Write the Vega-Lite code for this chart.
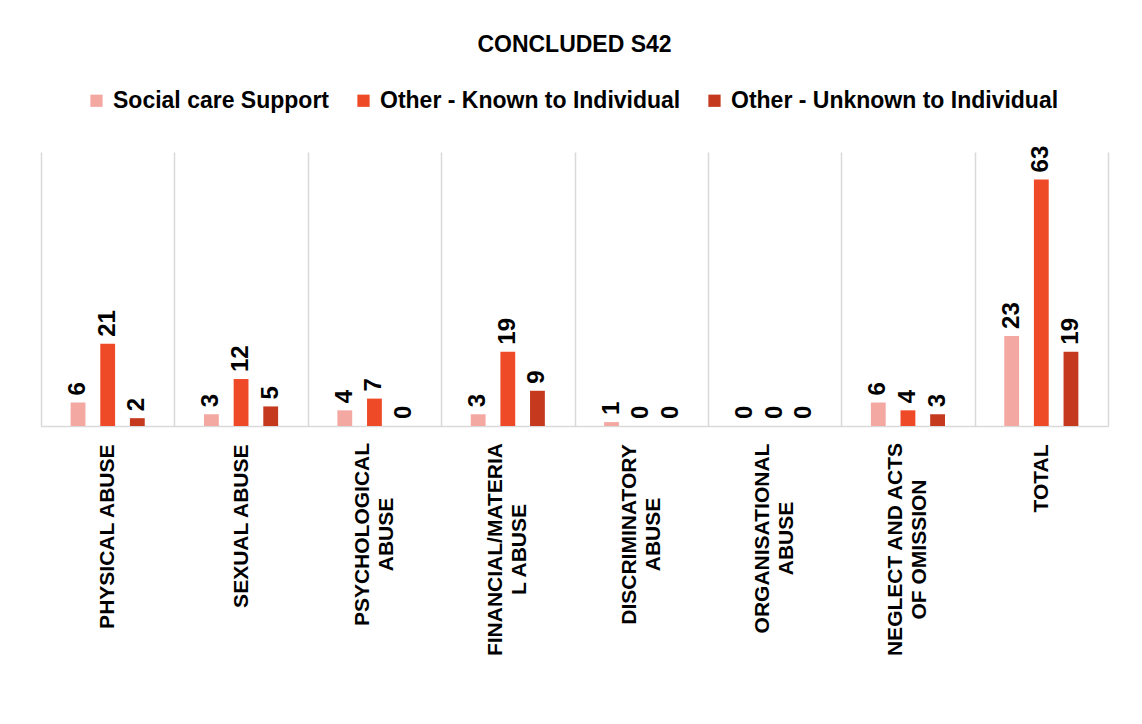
{
  "$schema": "https://vega.github.io/schema/vega-lite/v6.json",
  "width": 1067,
  "height": 274,
  "autosize": {"type": "none"},
  "padding": {"left": 41, "top": 152, "right": 34, "bottom": 298},
  "background": "white",
  "title": {"text": "CONCLUDED S42", "fontSize": 23, "font": "Liberation Sans", "fontWeight": "bold", "color": "#000000", "anchor": "middle", "offset": 32},
  "config": {"view": {"stroke": null}, "font": "Liberation Sans"},
  "data": {"values": [
    {"category": "PHYSICAL ABUSE", "series": "Social care Support", "value": 6},
    {"category": "PHYSICAL ABUSE", "series": "Other - Known to Individual", "value": 21},
    {"category": "PHYSICAL ABUSE", "series": "Other - Unknown to Individual", "value": 2},
    {"category": "SEXUAL ABUSE", "series": "Social care Support", "value": 3},
    {"category": "SEXUAL ABUSE", "series": "Other - Known to Individual", "value": 12},
    {"category": "SEXUAL ABUSE", "series": "Other - Unknown to Individual", "value": 5},
    {"category": "PSYCHOLOGICAL ABUSE", "series": "Social care Support", "value": 4},
    {"category": "PSYCHOLOGICAL ABUSE", "series": "Other - Known to Individual", "value": 7},
    {"category": "PSYCHOLOGICAL ABUSE", "series": "Other - Unknown to Individual", "value": 0},
    {"category": "FINANCIAL/MATERIAL ABUSE", "series": "Social care Support", "value": 3},
    {"category": "FINANCIAL/MATERIAL ABUSE", "series": "Other - Known to Individual", "value": 19},
    {"category": "FINANCIAL/MATERIAL ABUSE", "series": "Other - Unknown to Individual", "value": 9},
    {"category": "DISCRIMINATORY ABUSE", "series": "Social care Support", "value": 1},
    {"category": "DISCRIMINATORY ABUSE", "series": "Other - Known to Individual", "value": 0},
    {"category": "DISCRIMINATORY ABUSE", "series": "Other - Unknown to Individual", "value": 0},
    {"category": "ORGANISATIONAL ABUSE", "series": "Social care Support", "value": 0},
    {"category": "ORGANISATIONAL ABUSE", "series": "Other - Known to Individual", "value": 0},
    {"category": "ORGANISATIONAL ABUSE", "series": "Other - Unknown to Individual", "value": 0},
    {"category": "NEGLECT AND ACTS OF OMISSION", "series": "Social care Support", "value": 6},
    {"category": "NEGLECT AND ACTS OF OMISSION", "series": "Other - Known to Individual", "value": 4},
    {"category": "NEGLECT AND ACTS OF OMISSION", "series": "Other - Unknown to Individual", "value": 3},
    {"category": "TOTAL", "series": "Social care Support", "value": 23},
    {"category": "TOTAL", "series": "Other - Known to Individual", "value": 63},
    {"category": "TOTAL", "series": "Other - Unknown to Individual", "value": 19}
  ]},
  "encoding": {
    "x": {
      "field": "category",
      "type": "nominal",
      "sort": ["PHYSICAL ABUSE", "SEXUAL ABUSE", "PSYCHOLOGICAL ABUSE", "FINANCIAL/MATERIAL ABUSE", "DISCRIMINATORY ABUSE", "ORGANISATIONAL ABUSE", "NEGLECT AND ACTS OF OMISSION", "TOTAL"],
      "scale": {"paddingInner": 0, "paddingOuter": 0},
      "axis": {
        "title": null,
        "labelAngle": 270,
        "labelAlign": {"condition": {"test": "indexof(['PSYCHOLOGICAL ABUSE','FINANCIAL/MATERIAL ABUSE','DISCRIMINATORY ABUSE','ORGANISATIONAL ABUSE','NEGLECT AND ACTS OF OMISSION'], datum.value) >= 0", "value": "center"}, "value": "right"},
        "labelOffset": {"condition": {"test": "indexof(['PSYCHOLOGICAL ABUSE','FINANCIAL/MATERIAL ABUSE','DISCRIMINATORY ABUSE','ORGANISATIONAL ABUSE','NEGLECT AND ACTS OF OMISSION'], datum.value) >= 0", "value": -12}, "value": 0},
        "labelPadding": {"condition": [
          {"test": "datum.value == 'PSYCHOLOGICAL ABUSE' || datum.value == 'DISCRIMINATORY ABUSE'", "value": 108},
          {"test": "datum.value == 'ORGANISATIONAL ABUSE'", "value": 112},
          {"test": "datum.value == 'FINANCIAL/MATERIAL ABUSE' || datum.value == 'NEGLECT AND ACTS OF OMISSION'", "value": 123}
        ], "value": 18},
        "labelBaseline": "middle",
        "labelFont": "Liberation Sans",
        "labelFontSize": 21,
        "labelFontWeight": "bold",
        "labelColor": "#000000",
        "labelLineHeight": 24,
        "labelLimit": 400,
        "labelOverlap": false,
        "ticks": false,
        "tickBand": "extent",
        "grid": true,
        "gridColor": "#d9d9d9",
        "gridWidth": 1.5,
        "domainColor": "#d9d9d9",
        "domainWidth": 1.5,
        "labelExpr": "datum.value == 'PSYCHOLOGICAL ABUSE' ? ['PSYCHOLOGICAL', 'ABUSE'] : datum.value == 'FINANCIAL/MATERIAL ABUSE' ? ['FINANCIAL/MATERIA', 'L ABUSE'] : datum.value == 'DISCRIMINATORY ABUSE' ? ['DISCRIMINATORY', 'ABUSE'] : datum.value == 'ORGANISATIONAL ABUSE' ? ['ORGANISATIONAL', 'ABUSE'] : datum.value == 'NEGLECT AND ACTS OF OMISSION' ? ['NEGLECT AND ACTS', 'OF OMISSION'] : datum.value"
      }
    },
    "xOffset": {
      "field": "series",
      "type": "nominal",
      "sort": ["Social care Support", "Other - Known to Individual", "Other - Unknown to Individual"],
      "scale": {"paddingInner": 0.5, "paddingOuter": 1.13}
    },
    "y": {"field": "value", "type": "quantitative", "scale": {"domain": [0, 70]}, "axis": null}
  },
  "layer": [
    {
      "mark": {"type": "bar"},
      "encoding": {
        "color": {
          "field": "series",
          "type": "nominal",
          "sort": ["Social care Support", "Other - Known to Individual", "Other - Unknown to Individual"],
          "scale": {"domain": ["Social care Support", "Other - Known to Individual", "Other - Unknown to Individual"], "range": ["#F4A8A2", "#EF4A27", "#C5391F"]},
          "legend": {
            "title": null,
            "orient": "none",
            "legendX": 44,
            "legendY": -63,
            "direction": "horizontal",
            "symbolType": "square",
            "symbolSize": 150,
            "symbolStrokeWidth": 0,
            "labelFont": "Liberation Sans",
            "labelFontSize": 23,
            "labelFontWeight": "bold",
            "labelColor": "#000000",
            "labelOffset": 5,
            "labelLimit": 400,
            "columnPadding": 22
          }
        }
      }
    },
    {
      "mark": {"type": "text", "angle": 270, "align": "left", "baseline": "middle", "dx": 7, "font": "Liberation Sans", "fontSize": 24, "fontWeight": "bold", "color": "#000000"},
      "encoding": {"text": {"field": "value", "type": "quantitative"}}
    }
  ]
}
